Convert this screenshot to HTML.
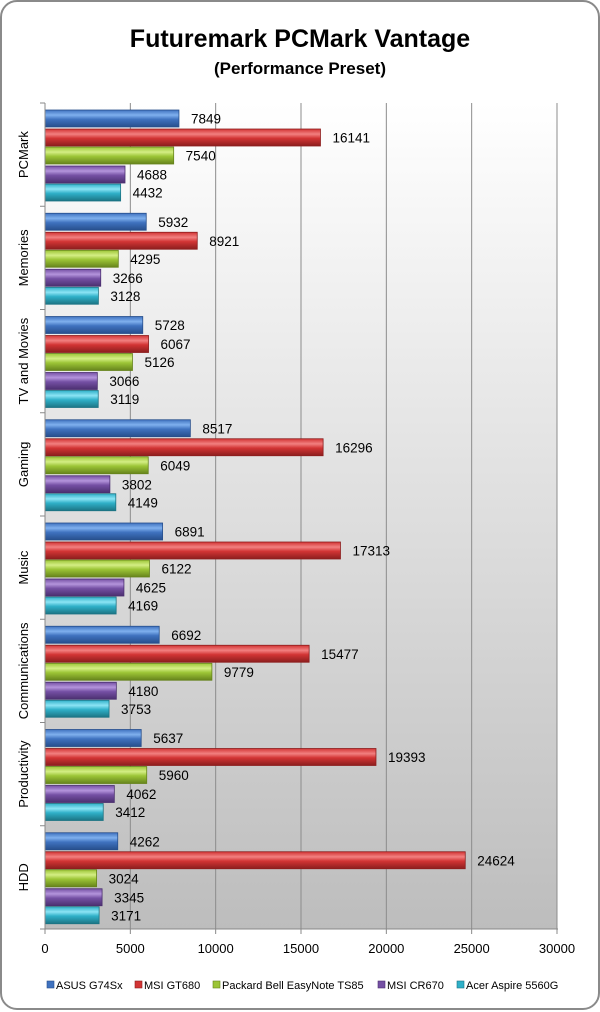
<!DOCTYPE html>
<html><head><meta charset="utf-8"><style>
html,body{margin:0;padding:0;background:#fff;}
svg{display:block;font-family:"Liberation Sans",sans-serif;}
</style></head><body>
<svg id="c" width="600" height="1012" viewBox="0 0 600 1012" xmlns="http://www.w3.org/2000/svg">
<defs>
<linearGradient id="bg" x1="0" y1="0" x2="0" y2="1"><stop offset="0" stop-color="#ffffff"/><stop offset="1" stop-color="#bdbdbd"/></linearGradient>
</defs>
<rect x="1" y="1" width="598" height="1008" rx="16" fill="#fff" stroke="#8a8a8a" stroke-width="2"/>
<text x="300" y="47" text-anchor="middle" font-size="25" font-weight="bold" fill="#000">Futuremark PCMark Vantage</text>
<text x="300" y="74" text-anchor="middle" font-size="17" font-weight="bold" fill="#000">(Performance Preset)</text>
<rect x="45" y="103" width="512" height="826" fill="url(#bg)"/>
<g id="g"></g>
</svg>
<script>
var g=document.getElementById('g'),h='';
var cols=[['#7fb0ee','#3f72bf','#274f8c'],['#f28080','#d23434','#8c1e1e'],['#d4ee84','#9cc536','#66841c'],['#b494dc','#7550a4','#4c3070'],['#8ce4f4','#2fb0c8','#1c7484']];
var defs='';
cols.forEach(function(c,i){defs+='<linearGradient id="b'+i+'" x1="0" y1="0" x2="0" y2="1"><stop offset="0" stop-color="'+c[1]+'"/><stop offset="0.3" stop-color="'+c[0]+'"/><stop offset="0.55" stop-color="'+c[1]+'"/><stop offset="1" stop-color="'+c[2]+'"/></linearGradient>';});
h+='<defs>'+defs+'</defs>';
for(var k=1;k<=6;k++){var x=45+k*512/6;h+='<line x1="'+x+'" y1="103" x2="'+x+'" y2="929" stroke="#8c8c8c" stroke-width="1"/>';}
var cats=['PCMark','Memories','TV and Movies','Gaming','Music','Communications','Productivity','HDD'];
var d=[[7849,16141,7540,4688,4432],[5932,8921,4295,3266,3128],[5728,6067,5126,3066,3119],[8517,16296,6049,3802,4149],[6891,17313,6122,4625,4169],[6692,15477,9779,4180,3753],[5637,19393,5960,4062,3412],[4262,24624,3024,3345,3171]];
var off=[7,26,44,63,81];
for(var i=0;i<8;i++){var t=103+i*103.25;
 h+='<line x1="40" y1="'+t+'" x2="45" y2="'+t+'" stroke="#888"/>';
 h+='<text transform="translate(28,'+(t+51.6)+') rotate(-90)" text-anchor="middle" font-size="13" fill="#000">'+cats[i]+'</text>';
 for(var j=0;j<5;j++){var w=d[i][j]*512/30000,y=t+off[j];
  h+='<rect x="45" y="'+y+'" width="'+w+'" height="17" fill="url(#b'+j+')" stroke="'+cols[j][2]+'" stroke-width="0.8"/>';
  h+='<text x="'+(45+w+12)+'" y="'+(y+13.5)+'" font-size="13.5" fill="#000">'+d[i][j]+'</text>';}
}
h+='<line x1="40" y1="929" x2="558" y2="929" stroke="#888"/><line x1="45" y1="103" x2="45" y2="934" stroke="#888"/>';
for(var k=0;k<=6;k++){var x=45+k*512/6;h+='<line x1="'+x+'" y1="929" x2="'+x+'" y2="934" stroke="#888"/><text x="'+x+'" y="953" text-anchor="middle" font-size="13" fill="#000">'+(k*5000)+'</text>';}
var leg=[['ASUS G74Sx',47],['MSI GT680',135],['Packard Bell EasyNote TS85',213],['MSI CR670',378],['Acer Aspire 5560G',457]];
leg.forEach(function(l,i){h+='<rect x="'+l[1]+'" y="981" width="7" height="7" fill="'+cols[i][1]+'" stroke="'+cols[i][2]+'" stroke-width="0.6"/><text x="'+(l[1]+9)+'" y="989" font-size="11" fill="#000">'+l[0]+'</text>';});
g.innerHTML=h;
</script>
</body></html>
